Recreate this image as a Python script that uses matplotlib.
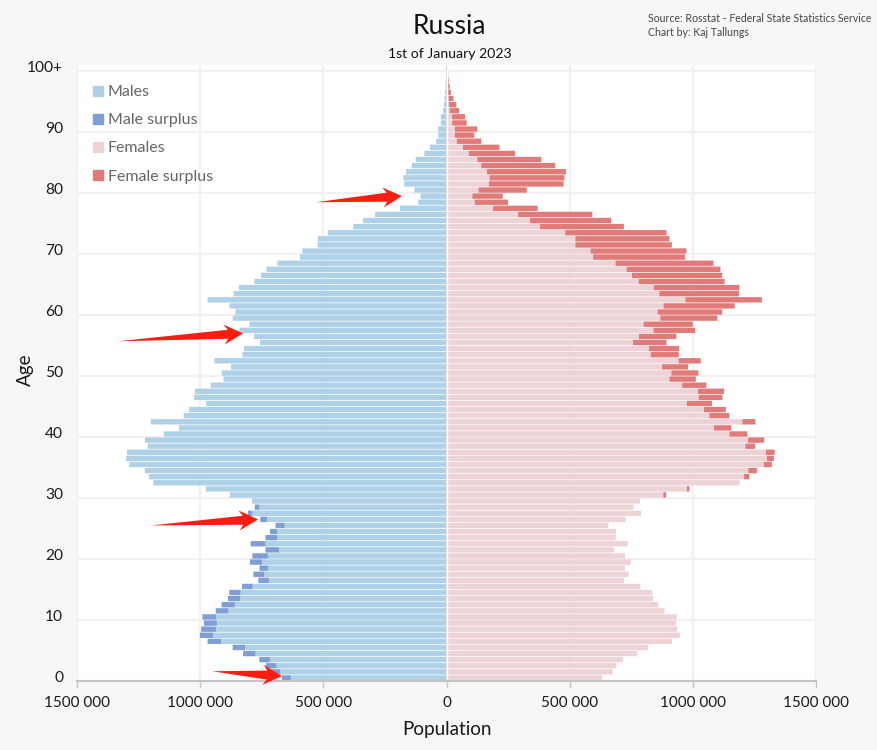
import matplotlib
matplotlib.use("Agg")
import numpy as np
import matplotlib.pyplot as plt
from matplotlib.lines import Line2D
from matplotlib.patches import Polygon

# Population by single year of age, 0 to 100+, in thousands
males = [668, 716, 733, 760, 826, 868, 970, 1001, 996, 985,
         991, 937, 913, 887, 882, 830, 764, 784, 759, 798,
         788, 735, 795, 735, 716, 694, 756, 806, 778, 788,
         880, 976, 1190, 1208, 1225, 1288, 1301, 1297, 1213, 1224,
         1148, 1086, 1201, 1067, 1045, 976, 1024, 1021, 957, 905,
         913, 875, 942, 829, 822, 757, 781, 840, 800, 868,
         857, 881, 970, 864, 842, 780, 753, 731, 686, 595,
         585, 523, 523, 482, 379, 339, 290, 189, 115, 105,
         130, 172, 175, 164, 141, 125, 90, 67, 42, 33,
         34, 23, 23, 13, 10, 8, 6, 4, 3, 2, 1]
females = [632, 674, 690, 717, 775, 818, 915, 947, 936, 932,
           935, 885, 859, 838, 836, 787, 721, 740, 724, 748,
           725, 680, 735, 687, 688, 657, 728, 790, 759, 786,
           892, 986, 1190, 1229, 1260, 1321, 1329, 1332, 1253, 1290,
           1221, 1156, 1254, 1148, 1134, 1078, 1120, 1127, 1055, 1012,
           1023, 981, 1032, 943, 944, 893, 933, 1009, 1000, 1099,
           1119, 1170, 1280, 1187, 1189, 1129, 1119, 1112, 1084, 968,
           974, 915, 905, 893, 720, 668, 592, 370, 250, 228,
           326, 475, 479, 485, 441, 385, 278, 215, 141, 113,
           125, 82, 75, 51, 40, 28, 18, 13, 9, 7, 5]

age_ticks = [0, 10, 20, 30, 40, 50, 60, 70, 80, 90, 100]
age_labels = ["0", "10", "20", "30", "40", "50", "60", "70", "80", "90", "100+"]
pop_ticks = [-1500, -1000, -500, 0, 500, 1000, 1500]
pop_labels = ["1500 000", "1000 000", "500 000", "0", "500 000", "1000 000", "1500 000"]

# Arrows marking the birth dips: population and age of tail, then of tip
arrows = [(-530, 78.5, -181, 79.5),
          (-1334, 55.7, -826, 57.0),
          (-1200, 25.5, -765, 26.5),
          (-952, 1.6, -668, 0.8)]

MALE = "#aed1e8"
MALE_SURPLUS = "#7f9fd4"
FEMALE = "#eed3d6"
FEMALE_SURPLUS = "#e07b79"
BG = "#f7f7f7"
GRID = "#f1f1f1"

plt.rcParams["font.family"] = ["Lato", "DejaVu Sans"]

fig = plt.figure(figsize=(8.77, 7.5), dpi=100, facecolor=BG)
ax = fig.add_axes([77 / 877, 1 - 681 / 750, (816 - 77) / 877, (681 - 65) / 750])

m = np.array(males, dtype=float)
f = np.array(females, dtype=float)
common = np.minimum(m, f)
ages = np.arange(len(m)) + 0.5

# Surplus is whatever one sex has beyond the other
ax.barh(ages, -common, height=0.88, color=MALE, zorder=3, snap=False)
ax.barh(ages, -(m - common), left=-common, height=0.88, color=MALE_SURPLUS, zorder=3, snap=False)
ax.barh(ages, common, height=0.88, color=FEMALE, zorder=3, snap=False)
ax.barh(ages, f - common, left=common, height=0.88, color=FEMALE_SURPLUS, zorder=3, snap=False)
ax.axvline(0, color="white", lw=1, zorder=4)

ax.set_xlim(-1500, 1500)
ax.set_ylim(0, 101)
ax.set_xticks(pop_ticks)
ax.set_xticklabels(pop_labels, fontsize=11, color="#1a1a1a")
ax.set_yticks([a + 0.75 for a in age_ticks])
ax.set_yticklabels(age_labels, fontsize=11.2, color="#1a1a1a")
ax.tick_params(axis="y", length=0, pad=10)
ax.tick_params(axis="x", length=5, width=1, color="#c4c4c4", pad=6)

# Grid lines sit on the decades, not on the tick labels
for a in age_ticks:
    ax.axhline(a, color=GRID, lw=1.6, zorder=1)
for p in pop_ticks:
    ax.axvline(p, color=GRID, lw=1.6, zorder=1)

for side in ["top", "left", "right"]:
    ax.spines[side].set_visible(False)
ax.spines["bottom"].set_color("#c4c4c4")
ax.spines["bottom"].set_linewidth(1.5)
ax.spines["bottom"].set_zorder(5)

ax.set_xlabel("Population", fontsize=13.6, color="#1a1a1a", labelpad=8)
ax.set_ylabel("Age", fontsize=13.6, color="#1a1a1a")
ax.yaxis.set_label_coords((34 - 77) / 739, 0.505)

fig.canvas.draw()
for x0, y0, x1, y1 in arrows:
    tail = ax.transData.transform((x0, y0))
    tip = ax.transData.transform((x1, y1))
    d = (tip - tail) / np.hypot(*(tip - tail))
    n = np.array([-d[1], d[0]])
    base = tip - d * 19
    notch = tip - d * 15
    pts = [tail, notch + n * 4.5, base + n * 10, tip, base - n * 10, notch - n * 4.5]
    ax.add_patch(Polygon(pts, closed=True, transform=None, facecolor="#fb1c12",
                         edgecolor="none", zorder=6, clip_on=False))

handles = [Line2D([], [], marker="s", ls="none", ms=6.5, color=c)
           for c in [MALE, MALE_SURPLUS, FEMALE, FEMALE_SURPLUS]]
ax.legend(handles, ["Males", "Male surplus", "Females", "Female surplus"],
          loc="upper left", bbox_to_anchor=(15 / 739, 1 - 20 / 616), frameon=False, fontsize=11.5,
          labelcolor="#666666", handlelength=0.7, handletextpad=0.3, labelspacing=0.875,
          borderpad=0, borderaxespad=0)

fig.text(449 / 877, 1 - 26 / 750, "Russia", fontsize=19, ha="center", va="center", color="#111111")
fig.text(449.5 / 877, 1 - 54 / 750, "1st of January 2023", fontsize=10.1, ha="center", va="center", color="#111111")
fig.text(648 / 877, 1 - 18 / 750, "Source: Rosstat - Federal State Statistics Service", fontsize=7.6,
         ha="left", va="center", color="#444444")
fig.text(648 / 877, 1 - 32 / 750, "Chart by: Kaj Tallungs", fontsize=7.6, ha="left", va="center", color="#444444")

fig.savefig("out.png", dpi=100, facecolor=BG)
